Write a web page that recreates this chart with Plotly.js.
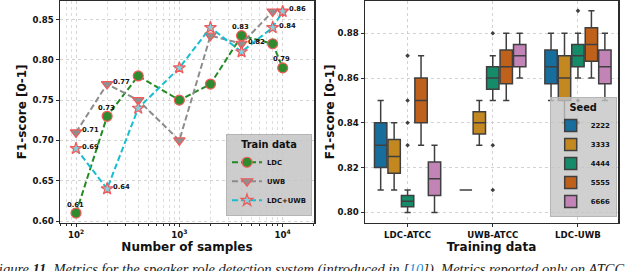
<!DOCTYPE html>
<html><head><meta charset="utf-8">
<script src="https://cdn.plot.ly/plotly-3.0.1.min.js"></script>
<style>html,body{margin:0;padding:0;background:#fff}#chart{width:640px;height:271px}</style>
</head><body><div id="chart"></div>
<script>
// ---- Left panel data ----
const samples = [100, 200, 400, 1000, 2000, 4000, 8000, 10000];
const ldcScores = [0.61, 0.73, 0.78, 0.75, 0.77, 0.83, 0.82, 0.79];
const uwbScores = [0.71, 0.77, 0.75, 0.70, 0.83, 0.82, 0.86, 0.86];
const ldcUwbScores = [0.69, 0.64, 0.74, 0.79, 0.84, 0.81, 0.84, 0.86];
const trainNames = ['LDC', 'UWB', 'LDC+UWB'];
// which points carry a value label (series index, point index)
const labelSeries = [0, 0, 0, 0, 1, 1, 1, 1, 2, 2, 2];
const labelPoint  = [0, 1, 5, 7, 0, 1, 5, 7, 0, 1, 6];

// ---- Right panel data (rows = seeds, columns = training data) ----
const trainingData = ['LDC-ATCC', 'UWB-ATCC', 'LDC-UWB'];
const seeds = ['2222', '3333', '4444', '5555', '6666'];
const boxLow    = [[0.81, 0.81, 0.85], [0.81, 0.83, 0.84], [0.80, 0.85, 0.86], [0.83, 0.85, 0.86], [0.80, 0.86, 0.85]];
const boxQ1     = [[0.82, 0.81, 0.8575], [0.8175, 0.835, 0.85], [0.8025, 0.855, 0.865], [0.84, 0.8575, 0.8675], [0.8075, 0.865, 0.8575]];
const boxMedian = [[0.83, 0.81, 0.865], [0.825, 0.84, 0.86], [0.805, 0.86, 0.87], [0.85, 0.865, 0.875], [0.815, 0.87, 0.865]];
const boxQ3     = [[0.84, 0.81, 0.8725], [0.8325, 0.845, 0.87], [0.8075, 0.865, 0.875], [0.86, 0.8725, 0.8825], [0.8225, 0.875, 0.8725]];
const boxHigh   = [[0.85, 0.81, 0.88], [0.84, 0.85, 0.88], [0.81, 0.87, 0.88], [0.87, 0.88, 0.89], [0.83, 0.88, 0.88]];
const boxOutliers = [
  [[], [], []],
  [[], [], []],
  [[0.83, 0.84, 0.85, 0.87], [0.81, 0.83, 0.88], [0.84, 0.85, 0.89]],
  [[], [], []],
  [[], [], []]
];

// ---- styles ----
const FONT = 'DejaVu Sans';
const seedColors = ['#176d9c', '#c38820', '#168b6a', '#c0611b', '#c283b6'];
const lineColors = ['#228b22', '#8c8c8c', '#17becf'];
const markerFaces = ['#2e8b2e', '#8f8f8f', '#7fd3e0'];
const markerSymbols = ['circle', 'triangle-down', 'star'];
const markerSizes = [10, 10, 9];
const edge = '#f25a5a';
const frame = '#2b2b2b';
const series = [ldcScores, uwbScores, ldcUwbScores];

const traces = [];
series.forEach((vals, k) => {
  traces.push({
    type: 'scatter', mode: 'lines+markers', x: samples, y: vals, name: trainNames[k],
    xaxis: 'x', yaxis: 'y', legend: 'legend',
    line: {color: lineColors[k], width: 2, dash: '6px,3px'},
    marker: {symbol: markerSymbols[k], size: markerSizes[k], color: markerFaces[k], line: {color: edge, width: 1.2}}
  });
});

seeds.forEach((s, k) => {
  const t = {
    type: 'box', name: s, x: trainingData, xaxis: 'x2', yaxis: 'y2', legend: 'legend2',
    q1: boxQ1[k], median: boxMedian[k], q3: boxQ3[k], lowerfence: boxLow[k], upperfence: boxHigh[k],
    boxpoints: 'outliers', jitter: 0, pointpos: 0,
    fillcolor: seedColors[k],
    line: {color: '#3f3f3f', width: 1.5},
    whiskerwidth: 0.5,
    marker: {symbol: 'diamond', size: 3.5, color: '#3f3f3f'},
    hoverinfo: 'skip'
  };
  if (boxOutliers[k].some(a => a.length)) t.y = boxOutliers[k];
  traces.push(t);
});

const annotations = [];
labelSeries.forEach((si, j) => {
  const pi = labelPoint[j];
  const above = si === 0;
  annotations.push({
    xref: 'x', yref: 'y', x: Math.log10(samples[pi]), y: series[si][pi],
    text: series[si][pi].toFixed(2), showarrow: false,
    xanchor: above ? 'center' : 'left', yanchor: 'middle',
    xshift: above ? -1 : 4, yshift: above ? 8.5 : 2,
    font: {family: FONT, size: 6.8, weight: 'bold', color: '#111'}
  });
});
annotations.push({
  xref: 'paper', yref: 'paper', x: -13 / 640, y: 1 - 259 / 271, xanchor: 'left', yanchor: 'top',
  showarrow: false, align: 'left',
  text: '<i>Figure <b>11.</b> Metrics for the speaker role detection system (introduced in [<span style="color:#1f8fd6">10</span>]). Metrics reported only on ATCC</i>',
  font: {family: 'Liberation Serif', size: 14.5, color: '#222'}
});

const tickFont = {family: FONT, size: 8.6, weight: 'bold', color: '#111'};
const titleFont = {family: FONT, size: 12, weight: 'bold', color: '#111'};
const yDom = [(271 - 222.7) / 271, (271 - 1) / 271];
const axisCommon = {
  showline: true, mirror: true, linecolor: frame, linewidth: 1.5,
  ticks: 'outside', ticklen: 3, tickwidth: 1, tickcolor: frame,
  showgrid: true, gridcolor: '#c8c8c8', griddash: 'dot', gridwidth: 0.8,
  zeroline: false, tickfont: tickFont, automargin: false
};
const minorLog = [];
[10, 100, 1000, 10000].forEach(d => { for (let m = 2; m <= 9; m++) minorLog.push(m * d); });

const layout = {
  width: 640, height: 271, margin: {l: 0, r: 0, t: 0, b: 0},
  paper_bgcolor: '#fff', plot_bgcolor: '#fff', showlegend: true,
  boxmode: 'group', boxgap: 0.21, boxgroupgap: 0.08,
  xaxis: Object.assign({}, axisCommon, {
    domain: [60 / 640, 314 / 640], anchor: 'y', type: 'log', range: [1.845, 4.303],
    tickmode: 'array', tickvals: [100, 1000, 10000],
    ticktext: ['10<sup>2</sup>', '10<sup>3</sup>', '10<sup>4</sup>'],
    minor: {tickmode: 'array', tickvals: minorLog, showgrid: true, gridcolor: '#d6d6d6', griddash: 'dot', gridwidth: 0.8, ticks: 'outside', ticklen: 2, tickcolor: frame},
    title: {text: 'Number of samples', font: titleFont, standoff: 2}
  }),
  yaxis: Object.assign({}, axisCommon, {
    domain: yDom, anchor: 'x', range: [0.598, 0.873], dtick: 0.05, tick0: 0.6, tickformat: '.2f',
    title: {text: 'F1-score [0-1]', font: titleFont, standoff: 3}
  }),
  xaxis2: Object.assign({}, axisCommon, {
    domain: [365 / 640, 618 / 640], anchor: 'y2', type: 'category', range: [-0.5, 2.47],
    title: {text: 'Training data', font: titleFont, standoff: 2}
  }),
  yaxis2: Object.assign({}, axisCommon, {
    domain: yDom, anchor: 'x2', range: [0.7954, 0.8944], dtick: 0.02, tick0: 0.8, tickformat: '.2f',
    title: {text: 'F1-score [0-1]', font: titleFont, standoff: 0}
  }),
  legend: {
    x: 312 / 640, y: 1 - 216 / 271, xanchor: 'right', yanchor: 'bottom',
    bgcolor: 'rgba(196,196,196,0.85)', bordercolor: '#b5b5b5', borderwidth: 1,
    font: {family: FONT, size: 6.8, weight: 'bold', color: '#111'},
    title: {text: 'Train data', side: 'top center', font: {family: FONT, size: 9.8, weight: 'bold', color: '#111'}},
    tracegroupgap: 0, itemwidth: 30
  },
  legend2: {
    x: 616.7 / 640, y: 1 - 217.3 / 271, xanchor: 'right', yanchor: 'bottom',
    bgcolor: 'rgba(196,196,196,0.8)', bordercolor: '#b5b5b5', borderwidth: 1,
    font: {family: FONT, size: 6.9, weight: 'bold', color: '#111'},
    title: {text: 'Seed', side: 'top center', font: {family: FONT, size: 9.8, weight: 'bold', color: '#111'}},
    tracegroupgap: 0, itemwidth: 30
  },
  annotations: annotations
};

Plotly.newPlot('chart', traces, layout, {displayModeBar: false, staticPlot: true});
</script>
</body></html>
